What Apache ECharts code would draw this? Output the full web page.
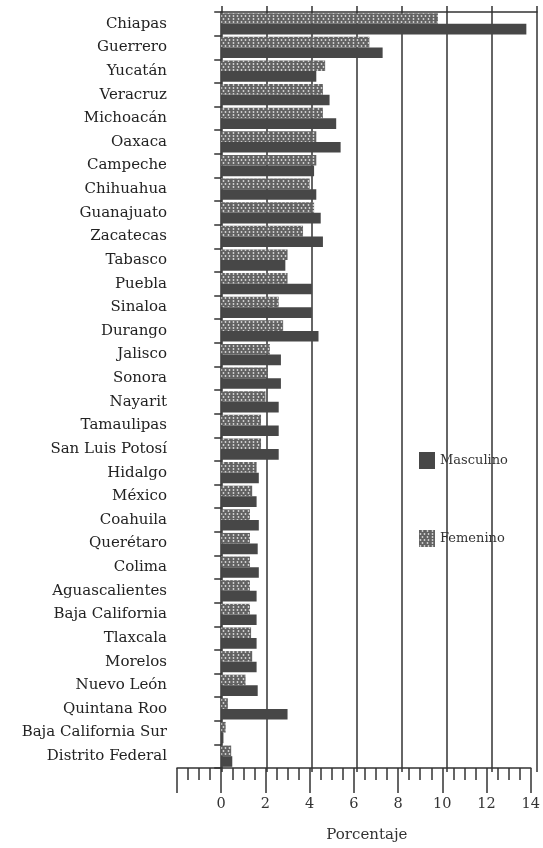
<!DOCTYPE html>
<html>
<head>
<meta charset="utf-8">
<script src="https://cdn.jsdelivr.net/npm/echarts@6/dist/echarts.min.js"></script>
<style>
  html, body { margin: 0; padding: 0; background: #fff; }
  #chart { width: 543px; height: 848px; }
</style>
</head>
<body>
<div id="chart"></div>
<script>
// estados, de arriba hacia abajo
const estados = ['Chiapas', 'Guerrero', 'Yucatán', 'Veracruz', 'Michoacán', 'Oaxaca', 'Campeche',
  'Chihuahua', 'Guanajuato', 'Zacatecas', 'Tabasco', 'Puebla', 'Sinaloa', 'Durango', 'Jalisco',
  'Sonora', 'Nayarit', 'Tamaulipas', 'San Luis Potosí', 'Hidalgo', 'México', 'Coahuila',
  'Querétaro', 'Colima', 'Aguascalientes', 'Baja California', 'Tlaxcala', 'Morelos',
  'Nuevo León', 'Quintana Roo', 'Baja California Sur', 'Distrito Federal'];

// porcentajes
const masculino = [13.8, 7.3, 4.3, 4.9, 5.2, 5.4, 4.2, 4.3, 4.5, 4.6, 2.9, 4.1, 4.1, 4.4, 2.7,
  2.7, 2.6, 2.6, 2.6, 1.7, 1.6, 1.7, 1.65, 1.7, 1.6, 1.6, 1.6, 1.6, 1.65, 3.0, 0.1, 0.5];
const femenino = [9.8, 6.7, 4.7, 4.6, 4.6, 4.3, 4.3, 4.0, 4.2, 3.7, 3.0, 3.0, 2.6, 2.8, 2.2,
  2.1, 2.0, 1.8, 1.8, 1.6, 1.4, 1.3, 1.3, 1.3, 1.3, 1.3, 1.35, 1.4, 1.1, 0.3, 0.2, 0.45];

const serif = 'DejaVu Serif';

const chart = echarts.init(document.getElementById('chart'));

const option = {
  animation: false,
  grid: [
    { left: 177, right: 6, top: 12, bottom: 76 },
    { left: 222, right: 6, top: 12, bottom: 76 } // marco superior y lineas verticales
  ],
  legend: {
    data: ['Masculino', 'Femenino'],
    orient: 'vertical',
    left: 414,
    top: 447,
    itemWidth: 16,
    itemHeight: 17,
    itemGap: 61,
    icon: 'rect',
    textStyle: { fontFamily: serif, fontSize: 13, color: '#333' }
  },
  xAxis: [
    {
      gridIndex: 0,
      type: 'value',
      min: -2,
      max: 14,
      interval: 2,
      position: 'bottom',
      axisLine: { show: true, lineStyle: { color: '#333', width: 1.5 } },
      axisTick: { show: true, length: 25, lineStyle: { color: '#333', width: 1.5 } },
      minorTick: { show: true, splitNumber: 4, length: 12, lineStyle: { color: '#333', width: 1.5 } },
      splitLine: { show: false },
      axisLabel: {
        margin: 29,
        fontFamily: serif,
        fontSize: 14.5,
        color: '#333',
        formatter: v => (v < 0 ? '' : v)
      },
      name: 'Porcentaje',
      nameLocation: 'middle',
      nameGap: 60,
      nameTextStyle: { fontFamily: serif, fontSize: 15, color: '#333', padding: [0, 0, 0, 26] }
    },
    {
      gridIndex: 1,
      type: 'value',
      min: 0,
      max: 14,
      interval: 2,
      position: 'top',
      axisLine: { show: true, lineStyle: { color: '#333', width: 1.5 } },
      axisTick: { show: true, length: 6, lineStyle: { color: '#333', width: 1.5 } },
      axisLabel: { show: false },
      splitLine: { show: true, lineStyle: { color: '#333', width: 1.5 } }
    }
  ],
  yAxis: [
    {
      gridIndex: 0,
      type: 'category',
      data: estados,
      inverse: true,
      axisLine: { show: true, lineStyle: { color: '#333', width: 1.5 } },
      axisTick: { show: true, length: 7, lineStyle: { color: '#333', width: 1.5 } },
      axisLabel: { margin: 10, fontFamily: serif, fontSize: 15, color: '#222' }
    },
    {
      gridIndex: 1,
      type: 'category',
      data: estados,
      inverse: true,
      show: false
    }
  ],
  series: [
    {
      name: 'Femenino',
      type: 'bar',
      xAxisIndex: 0,
      yAxisIndex: 0,
      data: femenino,
      barGap: '0%',
      barCategoryGap: '10%',
      itemStyle: {
        color: '#626262',
        decal: {
          symbol: 'circle',
          symbolSize: 0.9,
          color: 'rgba(235,235,235,0.85)',
          dashArrayX: [[3, 1], [0, 2, 3, 0]],
          dashArrayY: [2, 1],
          rotation: 0
        }
      }
    },
    {
      name: 'Masculino',
      type: 'bar',
      xAxisIndex: 0,
      yAxisIndex: 0,
      data: masculino,
      barGap: '0%',
      barCategoryGap: '10%',
      itemStyle: { color: '#474747' }
    }
  ]
};

chart.setOption(option);
</script>
</body>
</html>
